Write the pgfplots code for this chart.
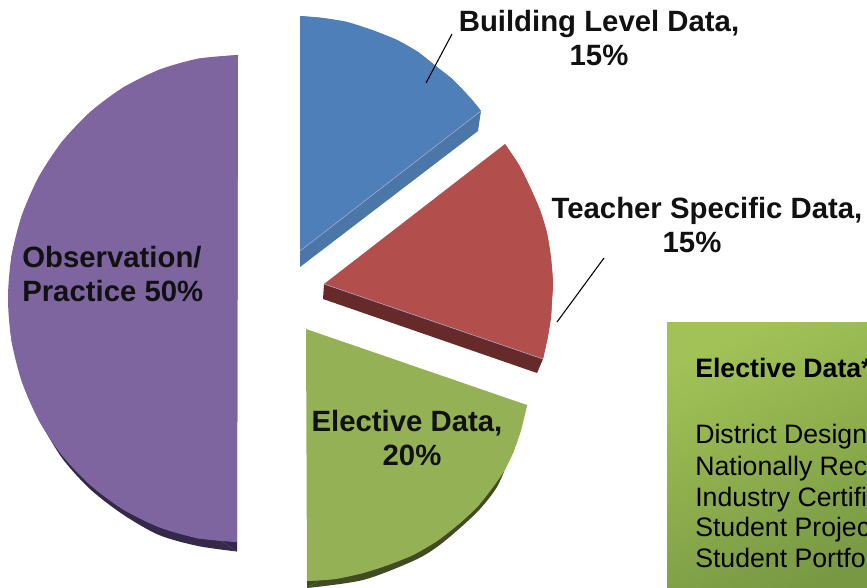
\documentclass[border=0pt]{standalone}
\usepackage{pgfplots}
\pgfplotsset{compat=1.18}
\usepackage{fontspec}
\setmainfont{Liberation Sans}
\definecolor{bluef}{HTML}{4E7FB8}
\definecolor{blues}{HTML}{4A76A8}
\definecolor{redf}{HTML}{B24E4B}
\definecolor{reds}{HTML}{662A2A}
\definecolor{greenf}{HTML}{94B255}
\definecolor{greens}{HTML}{414C24}
\definecolor{purplef}{HTML}{7F65A0}
\definecolor{purples}{HTML}{352848}
\definecolor{edgec}{HTML}{A9A8D2}
\definecolor{ink}{HTML}{111111}
\definecolor{boxa}{HTML}{A2C257}
\definecolor{boxb}{HTML}{789843}
\tikzset{
  lab/.style={font=\bfseries\fontsize{22}{25}\selectfont, text=ink, inner sep=0pt},
  boxt/.style={font=\fontsize{20}{23}\selectfont, text=black, inner sep=0pt, anchor=base west},
}
\pgfplotstableread{
x y
238 55
198.1 58.7
159.3 69.7
123 87.6
90.2 112
61.8 142
38.8 176.8
21.9 215.2
11.5 256.2
8 298.5
11.5 340.8
21.9 381.8
38.8 420.3
61.8 455
90.2 485
123 509.4
159.3 527.3
198.1 538.3
237 542
}\purplearc
\pgfplotstableread{
x y
300 16
323 18
347 22
372 30
397 40
418 52
437 67
451 78
463 90
473 101
481 111
}\bluearc
\pgfplotstableread{
x y
505 144
519 165
530 187
540 210
547 233
551 258
553 283
552 300
551 317
548 336
543 359
}\redarc
\pgfplotstableread{
x y
527 405
521 430
513 453
504 471
493 487
478 506
460 523
437 541
413 555
388 565
363 573
335 579
307 581
}\greenarc
\pgfplotstableread{
x y
237 551.5
198 546
159 535
123 514.5
90 489
62 458
39 420
}\purpleside
\pgfplotstableread{
x y
307 588
363 580
413 561
437 547
460 528
480 509
497 487
507 464
}\greenside
\begin{document}
\begin{tikzpicture}
\useasboundingbox (0,0) rectangle (650.25pt,441pt);
\clip (0,0) rectangle (650.25pt,441pt);
\begin{axis}[
  at={(0,0)}, anchor=south west,
  scale only axis, width=650.25pt, height=441pt,
  xmin=0, xmax=867, ymin=0, ymax=588, y dir=reverse,
  hide axis, clip=false,
]
% purple
\addplot[draw=none, fill=purples, smooth] table {\purpleside};
\addplot[draw=none, fill=purples] coordinates {(237,541)(237,551.5)(39,420)(39,415)};
\addplot[draw=none, fill=purplef] table {\purplearc};
\addplot[draw=none, fill=purplef, smooth] table {\purplearc};
% blue
\addplot[draw=none, fill=blues] coordinates {(300,251)(300,267)(478,131)(481,111)};
\addplot[draw=none, fill=bluef] coordinates {(300,16)(323,18)(347,22)(372,30)(397,40)(418,52)(437,67)(451,78)(463,90)(473,101)(481,111)(300,251)};
\addplot[draw=none, fill=bluef, smooth] table {\bluearc};
\addplot[edgec, line width=0.4pt] coordinates {(300,251)(481,111)};
% red
\addplot[draw=none, fill=reds] coordinates {(324,284)(323,299)(537,373)(543,359)};
\addplot[draw=none, fill=redf] coordinates {(505,144)(519,165)(530,187)(540,210)(547,233)(551,258)(553,283)(552,300)(551,317)(548,336)(543,359)(324,284)};
\addplot[draw=none, fill=redf, smooth] table {\redarc};
\addplot[edgec, line width=0.4pt] coordinates {(324,284)(543,359)};
% green
\addplot[draw=none, fill=greens, smooth] table {\greenside};
\addplot[draw=none, fill=greens] coordinates {(307,581)(307,588)(507,464)(500,460)};
\addplot[draw=none, fill=greenf] coordinates {(306,329)(527,405)(521,430)(513,453)(504,471)(493,487)(478,506)(460,523)(437,541)(413,555)(388,565)(363,573)(335,579)(307,581)};
\addplot[draw=none, fill=greenf, smooth] table {\greenarc};
% leader lines
\addplot[black, line width=0.8pt] coordinates {(426,83)(452,34)};
\addplot[black, line width=0.8pt] coordinates {(557,322)(604,258)};
% box
\addplot[draw=none, shade, top color=boxa, bottom color=boxb, shading angle=25] coordinates {(667,322)(880,322)(880,600)(667,600)};
% labels
\node[lab, anchor=base] at (axis cs:599,32) {Building Level Data,};
\node[lab, anchor=base] at (axis cs:599,66) {15\%};
\node[lab, anchor=base] at (axis cs:707,218) {Teacher Specific Data,};
\node[lab, anchor=base] at (axis cs:692,252) {15\%};
\node[lab, anchor=base] at (axis cs:407,431) {Elective Data,};
\node[lab, anchor=base] at (axis cs:412,465) {20\%};
\node[lab, anchor=base west] at (axis cs:22,267) {Observation/};
\node[lab, anchor=base west] at (axis cs:22,301) {Practice 50\%};
% box text
\node[boxt, font=\bfseries\fontsize{20}{23}\selectfont] at (axis cs:695,377) {Elective Data*};
\node[boxt] at (axis cs:695,443) {District Design};
\node[boxt] at (axis cs:695,475) {Nationally Rec};
\node[boxt] at (axis cs:695,506) {Industry Certifi};
\node[boxt] at (axis cs:695,536) {Student Projec};
\node[boxt] at (axis cs:695,567) {Student Portfol};
\end{axis}
\end{tikzpicture}
\end{document}
